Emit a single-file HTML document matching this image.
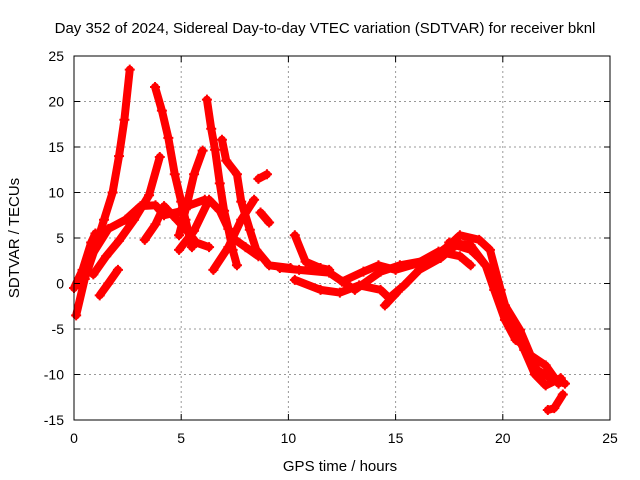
<!DOCTYPE html>
<html><head><meta charset="utf-8"><style>
body{margin:0;background:#fff;}
svg{display:block;font-family:"Liberation Sans",sans-serif;}
</style></head><body>
<svg id="chart" width="640" height="480" viewBox="0 0 640 480">
<text x="325" y="33" font-size="15" text-anchor="middle">Day 352 of 2024, Sidereal Day-to-day VTEC variation (SDTVAR) for receiver bknl</text>
<g id="grid"></g><g id="series"></g><g id="axes"></g>
<text x="340" y="471" font-size="15" text-anchor="middle">GPS time / hours</text>
<text transform="translate(19,238) rotate(-90)" font-size="15" text-anchor="middle">SDTVAR / TECUs</text>
</svg>
<script>
const xTicks=[0,5,10,15,20,25];
const yTicks=[-15,-10,-5,0,5,10,15,20,25];
const track1=[[0.1,-3.5],[0.5,0.5],[1.0,4],[1.4,7],[1.8,10],[2.1,14],[2.35,18],[2.6,23.5]];
const track2=[[3.78,21.6],[4.1,19],[4.4,16],[4.7,12],[5.0,9],[5.2,7],[5.4,5],[5.5,4]];
const track3=[[6.2,20.2],[6.4,17],[6.58,14.7],[6.8,11],[7.0,8],[7.2,6],[7.4,3.7],[7.6,2]];
const track4=[[6.9,15.8],[7.1,13.5],[7.6,12],[7.8,9],[8.2,5.9],[8.5,3.7],[9.1,2],[10.1,1.7]];
const track5=[[4.9,5.3],[5.3,9],[5.6,12],[6.0,14.6]];
const track6=[[0.9,1],[1.5,3],[2.1,4.7],[2.8,7],[3.5,9.7],[4.0,13.9]];
const track7=[[0.8,3],[1.6,6],[2.4,7],[3.1,8.5],[3.8,8.6],[4.2,7.5],[4.9,7.9],[5.4,8.6],[6.1,9.2]];
const track8=[[3.3,4.8],[3.8,6.5],[4.2,8.5],[4.8,7],[5.2,6],[5.7,4.5],[6.3,4]];
const track9=[[4.9,3.7],[5.6,5.8],[6.3,9.2],[6.8,8],[7.4,5],[8.0,4],[8.6,3]];
const track10=[[6.5,1.5],[7.2,4],[7.8,7],[8.4,9.2]];
const track11=[[8.7,7.8],[9.1,6.7]];
const track12=[[8.6,11.5],[9.0,12]];
const track13=[[1.2,-1.3],[1.6,0],[2.05,1.5]];
const track14=[[10.3,5.3],[10.8,2.4],[11.5,1.7],[11.9,1.5]];
const track15=[[9.6,1.7],[10.5,1.5],[11.9,1.2],[13.1,-0.7],[14.3,1.3],[15.2,2],[16.6,2.6],[17.5,4.2],[18.0,5.3],[18.9,4.8],[19.4,3.7],[19.9,-0.7],[20.3,-4],[21.0,-7.3],[21.5,-10],[22.0,-11.2],[22.7,-10.4]];
const track16=[[10.3,0.4],[11.5,-0.7],[12.4,-1],[13.3,-0.2],[14.3,-0.7],[14.7,-1.6],[15.4,-0.2],[16.1,1.5],[17.1,2.8],[17.8,4.2],[18.5,3.7],[18.9,2.8],[19.6,0.9],[20.1,-2.4],[20.8,-5.1],[21.3,-7.9],[22.0,-9],[22.6,-11]];
const track17=[[17.5,4.5],[18.5,4.2],[19.2,2],[19.6,-0.7],[20.1,-4],[20.6,-6.2],[21.0,-6.8],[21.6,-9.5],[22.3,-10.5],[22.9,-11]];
const track18=[[22.1,-13.9],[22.4,-13.7],[22.8,-12.2]];
const track19=[[14.5,-2.4],[15.1,-0.9]];
const track20=[[12.5,0.2],[13.5,1.3],[14.2,2],[15.0,1.5],[16.0,2.2],[17.0,3.5],[18.0,3],[18.5,2]];
const track21=[[0,-0.5],[0.4,1.5],[0.8,4.5],[1.0,5.5]];
const tracks=[track1,track2,track3,track4,track5,track6,track7,track8,track9,track10,track11,track12,track13,track14,track15,track16,track17,track18,track19,track20,track21];
const L=74,R=610,T=56,B=420;
const xs=v=>L+(v-0)/25*(R-L);
const ys=v=>B-(v+15)/40*(B-T);
const NS="http://www.w3.org/2000/svg";
function mk(tag,at,parent){const e=document.createElementNS(NS,tag);for(const k in at)e.setAttribute(k,at[k]);parent.appendChild(e);return e;}
const grid=document.getElementById('grid'),axes=document.getElementById('axes'),ser=document.getElementById('series');
xTicks.forEach(t=>{
 if(t>0&&t<25){const g=mk('line',{x1:xs(t),x2:xs(t),y1:T,y2:B,stroke:'#999','stroke-dasharray':'2,3'},grid);
 
 }
 const tx=mk('text',{x:xs(t),y:B+23,'font-size':14,'text-anchor':'middle'},axes);tx.textContent=t;
 
 
 mk('line',{x1:xs(t),x2:xs(t),y1:B,y2:B-6,stroke:'#000'},axes);
 mk('line',{x1:xs(t),x2:xs(t),y1:T,y2:T+6,stroke:'#000'},axes);
});
yTicks.forEach(t=>{
 if(t>-15&&t<25){const g=mk('line',{x1:L,x2:R,y1:ys(t),y2:ys(t),stroke:'#999','stroke-dasharray':'2,3'},grid);
 
 }
 const tx=mk('text',{x:L-10,y:ys(t)+5,'font-size':14,'text-anchor':'end'},axes);tx.textContent=t;
 
 
 mk('line',{x1:L,x2:L+6,y1:ys(t),y2:ys(t),stroke:'#000'},axes);
 mk('line',{x1:R,x2:R-6,y1:ys(t),y2:ys(t),stroke:'#000'},axes);
});
const box=mk('rect',{x:L,y:T,width:R-L,height:B-T,fill:'none',stroke:'#000'},axes);


tracks.forEach(tr=>{
 const p=mk('polyline',{points:tr.map(d=>xs(d[0])+','+ys(d[1])).join(' '),fill:'none',stroke:'#f00','stroke-width':8,'stroke-linejoin':'round','stroke-linecap':'round'},ser);
 
 
 tr.forEach(d=>{
  const m=mk('path',{d:`M${xs(d[0])-5},${ys(d[1])}h10M${xs(d[0])},${ys(d[1])-5}v10`,stroke:'#f00','stroke-width':2},ser);
  
  
 });
});
</script>
</body></html>
